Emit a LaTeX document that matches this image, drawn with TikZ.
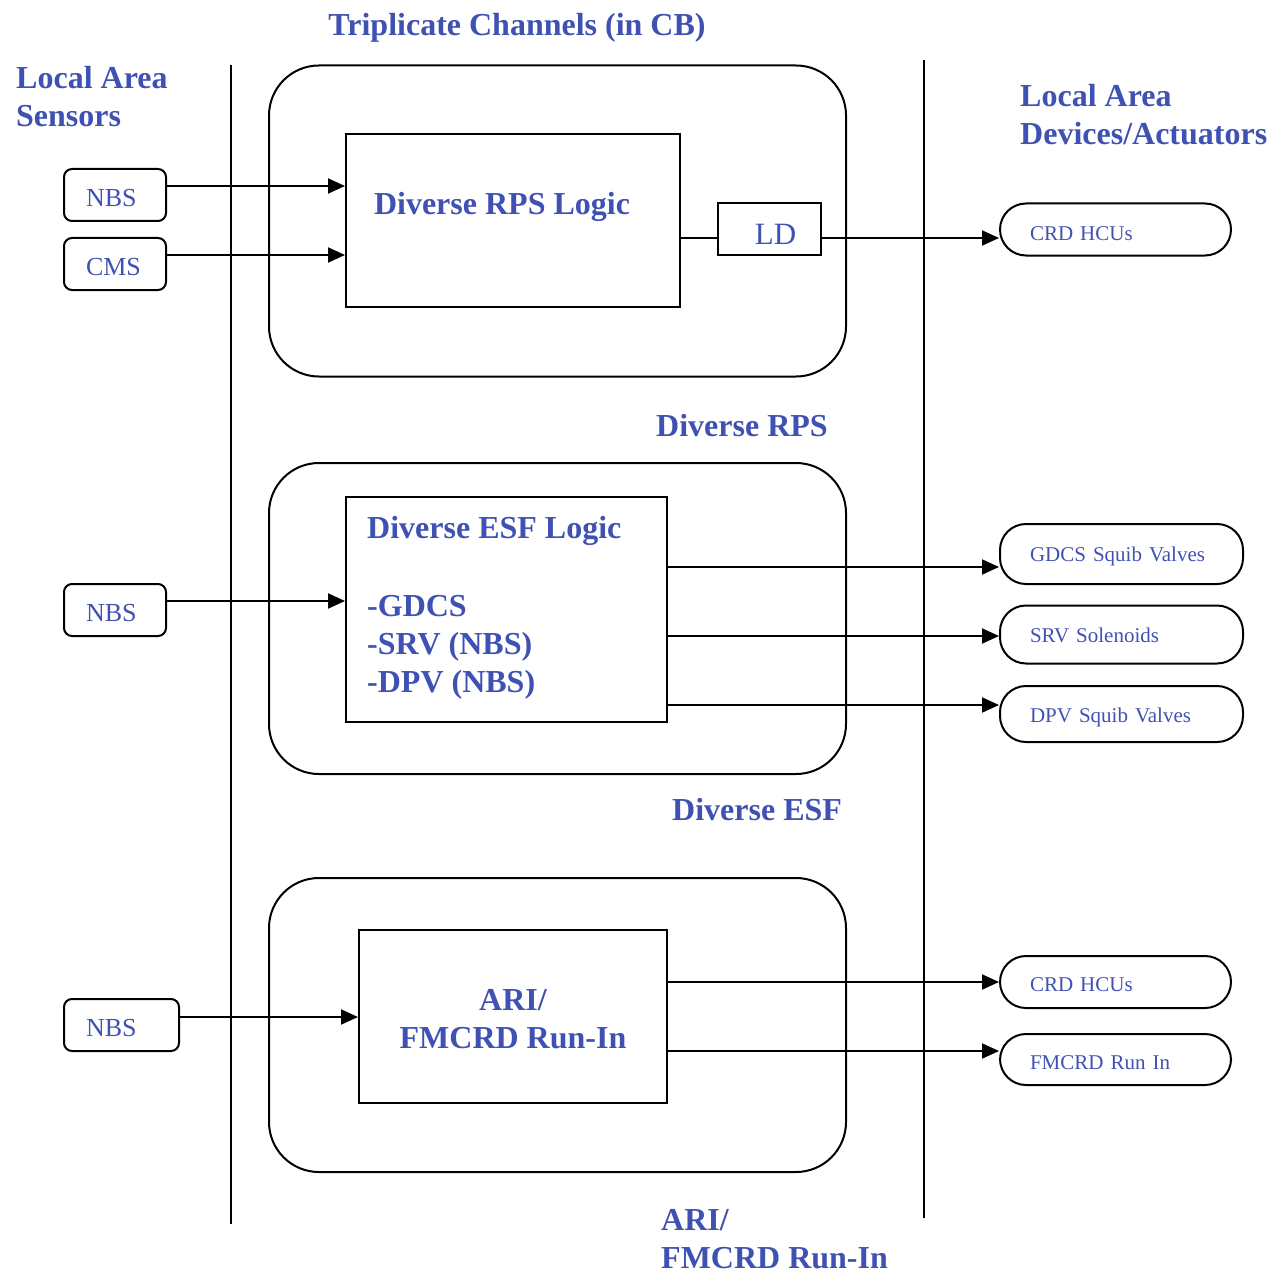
\documentclass[tikz,border=0pt]{standalone}
\usepackage{fontspec}
\setmainfont{Liberation Serif}
\usetikzlibrary{arrows.meta}
\definecolor{tblue}{RGB}{63,81,178}
\newcommand{\lowr}[2]{\raisebox{-#1}[0.66em][0pt]{#2}}
\begin{document}
\begin{tikzpicture}[x=1pt,y=-1pt,
  every node/.style={text=tblue},
  lw/.style={line width=2pt},
  arr/.style={lw,-{Triangle[length=17pt,width=15pt]}},
  group/.style={draw,lw,rounded corners=50pt,minimum width=577pt,inner sep=0pt},
  logic/.style={draw,lw,inner sep=0pt},
  sensor/.style={draw,lw,rounded corners=8pt,minimum height=52pt,inner xsep=22pt,inner ysep=0pt,align=left,font=\fontsize{26}{30}\selectfont},
  device/.style={draw,lw,rounded corners=26pt,inner xsep=30pt,inner ysep=0pt,align=left,font=\fontsize{21}{25}\selectfont},
  big/.style={inner sep=0pt,font=\bfseries\fontsize{32}{38}\selectfont},
]
\useasboundingbox (0,0) rectangle (1273,1273);
% separators
\coordinate (l1t) at (231,65); \coordinate (l1b) at (231,1224);
\coordinate (l2t) at (924,60); \coordinate (l2b) at (924,1218);
\draw[lw] (l1t) -- (l1b);
\draw[lw] (l2t) -- (l2b);
% headings
\node[big,anchor=base] (title) at (517,36) {Triplicate Channels (in CB)};
\node[big,anchor=base west,align=left] (sens) at (16,127) {Local Area\\Sensors};
\node[big,anchor=base west,align=left] (devs) at (1020,145) {Local Area\\Devices/Actuators};
% group 1
\node[group,minimum height=311pt] (g1) at (557.5,221) {};
\node[logic,minimum width=334pt,minimum height=173pt] (rps) at (513,220.5) {};
\node[big,anchor=base] (rpst) at (502,215) {Diverse RPS Logic};
\node[logic,minimum width=103pt,minimum height=52pt,font=\fontsize{31}{36}\selectfont] (ld) at (769.5,229) {\lowr{5pt}{\hspace{12pt}LD}};
\node[sensor,text width=58pt] (nbs1) at (115,195) {\lowr{3pt}{NBS}};
\node[sensor,text width=58pt] (cms) at (115,264) {\lowr{3pt}{CMS}};
\node[device,minimum height=52pt,text width=171pt] (crd1) at (1115.5,229.5) {\lowr{4pt}{CRD HCUs}};
\draw[arr] (nbs1.east |- 0,186) -- (rps.west |- 0,186);
\draw[arr] (cms.east |- 0,255) -- (rps.west |- 0,255);
\draw[lw] (rps.east |- 0,238) -- (ld.west |- 0,238);
\draw[arr] (ld.east |- 0,238) -- (crd1.west |- 0,238);
\node[big,anchor=base west] (rpsl) at (656,436) {Diverse RPS};
% group 2
\node[group,minimum height=311pt] (g2) at (557.5,618.5) {};
\node[logic,minimum width=321pt,minimum height=225pt] (esf) at (506.5,609.5) {};
\node[big,anchor=base west,align=left] (esft) at (367,692) {Diverse ESF Logic\\[40pt]-GDCS\\-SRV (NBS)\\-DPV (NBS)};
\node[sensor,text width=58pt] (nbs2) at (115,610) {\lowr{3pt}{NBS}};
\node[device,minimum height=60pt,text width=183pt] (gdcs) at (1121.5,554) {\lowr{1pt}{GDCS Squib Valves}};
\node[device,minimum height=58pt,text width=183pt] (srv) at (1121.5,634.5) {\lowr{1pt}{SRV Solenoids}};
\node[device,minimum height=56pt,text width=183pt] (dpv) at (1121.5,714) {\lowr{2pt}{DPV Squib Valves}};
\draw[arr] (nbs2.east |- 0,601) -- (esf.west |- 0,601);
\draw[arr] (esf.east |- 0,567) -- (gdcs.west |- 0,567);
\draw[arr] (esf.east |- 0,636) -- (srv.west |- 0,636);
\draw[arr] (esf.east |- 0,705) -- (dpv.west |- 0,705);
\node[big,anchor=base west] (esfl) at (672,820) {Diverse ESF};
% group 3
\node[group,minimum height=294pt] (g3) at (557.5,1025) {};
\node[logic,minimum width=308pt,minimum height=173pt] (ari) at (513,1016.5) {};
\node[big,anchor=base,align=center] (arit) at (513,1048) {ARI/\\FMCRD Run-In};
\node[sensor,text width=71pt] (nbs3) at (121.5,1025) {\lowr{3pt}{NBS}};
\node[device,minimum height=52pt,text width=171pt] (crd2) at (1115.5,982) {\lowr{3pt}{CRD HCUs}};
\node[device,minimum height=51pt,text width=171pt] (fmc) at (1115.5,1059.5) {\lowr{3pt}{FMCRD Run In}};
\draw[arr] (nbs3.east |- 0,1017) -- (ari.west |- 0,1017);
\draw[arr] (ari.east |- 0,982) -- (crd2.west |- 0,982);
\draw[arr] (ari.east |- 0,1051) -- (fmc.west |- 0,1051);
\node[big,anchor=base west,align=left] (aril) at (661,1268) {ARI/\\FMCRD Run-In};
\end{tikzpicture}
\end{document}
